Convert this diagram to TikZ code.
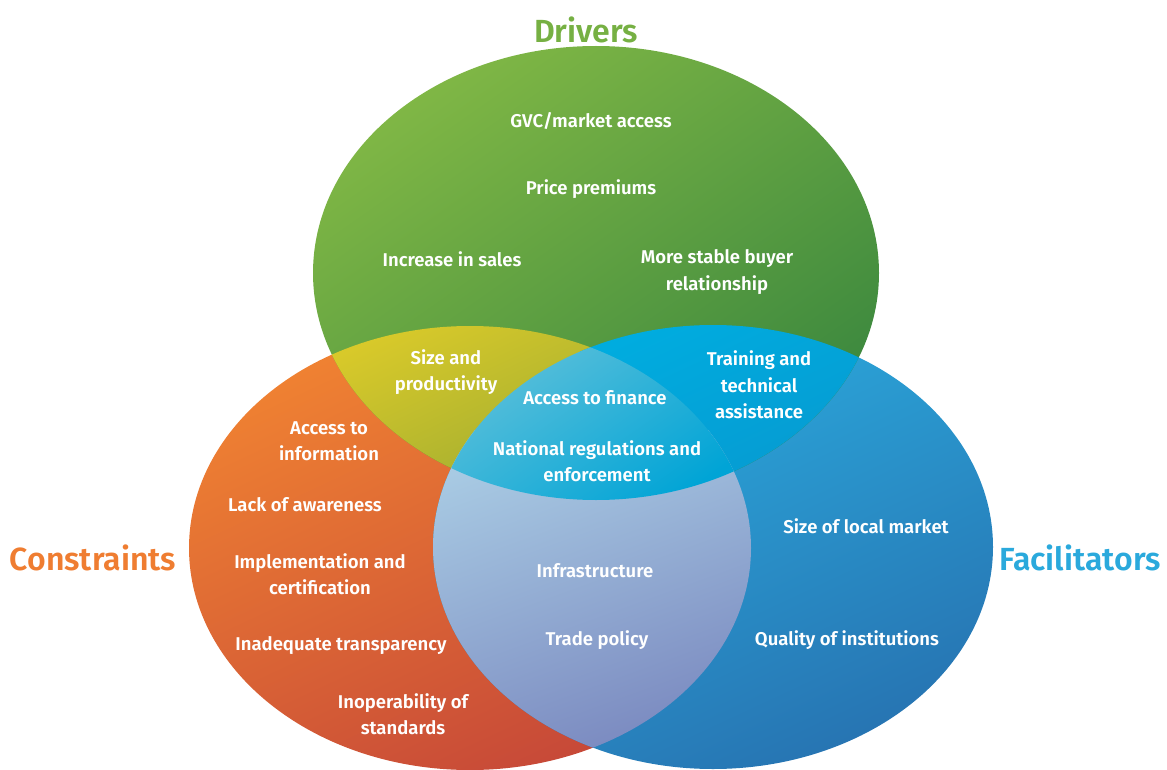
\documentclass[tikz,border=0pt]{standalone}
\usepackage{fontspec}
\setmainfont{Fira Sans}[BoldFont={Fira Sans SemiBold}]
\definecolor{gTop}{HTML}{80B745}
\definecolor{gMid}{HTML}{74AC42}
\definecolor{gBot}{HTML}{3A873E}
\definecolor{oTop}{HTML}{F08232}
\definecolor{oMid}{HTML}{EC7A31}
\definecolor{oBot}{HTML}{C64838}
\definecolor{bTop}{HTML}{2BAEE0}
\definecolor{bMid}{HTML}{279FD6}
\definecolor{bBot}{HTML}{2774B2}
\definecolor{yTop}{HTML}{D8C92A}
\definecolor{yBot}{HTML}{9DAB31}
\definecolor{cTop}{HTML}{00ACDF}
\definecolor{cBot}{HTML}{0799D0}
\definecolor{tTop}{HTML}{5DC0DA}
\definecolor{tBot}{HTML}{00A4D6}
\definecolor{pTop}{HTML}{A8CAE3}
\definecolor{pMid}{HTML}{96B5D6}
\definecolor{pBot}{HTML}{7886BE}
\definecolor{tDrv}{HTML}{76B043}
\definecolor{tCon}{HTML}{EF7D31}
\definecolor{tFac}{HTML}{2AA9DC}
\begin{document}
\begin{tikzpicture}[x=1pt,y=-1pt,
  lbl/.style={text=white, font=\fontsize{18.5}{26.5}\selectfont\bfseries, align=center, inner sep=0pt},
  ttl/.style={font=\fontsize{32}{36}\selectfont\bfseries, inner sep=0pt}]
\useasboundingbox (0,0) rectangle (1167,770);
\def\G{(596,273) ellipse [x radius=283pt, y radius=227pt]}
\def\O{(470,548) ellipse [x radius=281pt, y radius=222pt]}
\def\B{(713,547) ellipse [x radius=280pt, y radius=222pt]}
% base ellipses
\shade[top color=oTop, middle color=oMid, bottom color=oBot, shading angle=25] \O;
\shade[top color=bTop, middle color=bMid, bottom color=bBot, shading angle=25] \B;
\shade[top color=gTop, middle color=gMid, bottom color=gBot, shading angle=35] \G;
% green & orange
\begin{scope}
  \clip \G; \clip \O;
  \shade[top color=yTop, bottom color=yBot, shading angle=25] (330,320) rectangle (610,505);
\end{scope}
% green & blue
\begin{scope}
  \clip \G; \clip \B;
  \shade[top color=cTop, bottom color=cBot, shading angle=25] (580,320) rectangle (870,505);
\end{scope}
% orange & blue
\begin{scope}
  \clip \O; \clip \B;
  \shade[top color=pTop, middle color=pMid, bottom color=pBot, shading angle=20] (430,430) rectangle (755,770);
\end{scope}
% triple
\begin{scope}
  \clip \G; \clip \O; \clip \B;
  \shade[top color=tTop, bottom color=tBot, shading angle=35] (450,340) rectangle (745,505);
\end{scope}
% titles
\node[ttl, text=tDrv] (drivers) at (586,30) {Drivers};
\node[ttl, text=tCon] (constraints) at (93,558) {Constraints};
\node[ttl, text=tFac] (facilitators) at (1080,558) {Facilitators};
% drivers
\node[lbl] (gvc) at (591,121) {GVC/market access};
\node[lbl] (price) at (591,189) {Price premiums};
\node[lbl] (sales) at (452,259) {Increase in sales};
\node[lbl] (buyer) at (717,272) {More stable buyer\\relationship};
% overlaps
\node[lbl] (size) at (446,372) {Size and\\productivity};
\node[lbl] (training) at (759,385) {Training and\\technical\\assistance};
\node[lbl] (finance) at (595,398) {Access to finance};
\node[lbl] (natreg) at (597,461) {National regulations and\\enforcement};
\node[lbl] (infra) at (595,571) {Infrastructure};
\node[lbl] (trade) at (597,640) {Trade policy};
% constraints
\node[lbl] (info) at (329,441) {Access to\\information};
\node[lbl] (aware) at (305,505) {Lack of awareness};
\node[lbl] (impl) at (320,574) {Implementation and\\certification};
\node[lbl] (transp) at (341,646) {Inadequate transparency};
\node[lbl] (inop) at (403,714) {Inoperability of\\standards};
% facilitators
\node[lbl] (local) at (866,526) {Size of local market};
\node[lbl] (quality) at (847,640) {Quality of institutions};
\end{tikzpicture}
\end{document}
